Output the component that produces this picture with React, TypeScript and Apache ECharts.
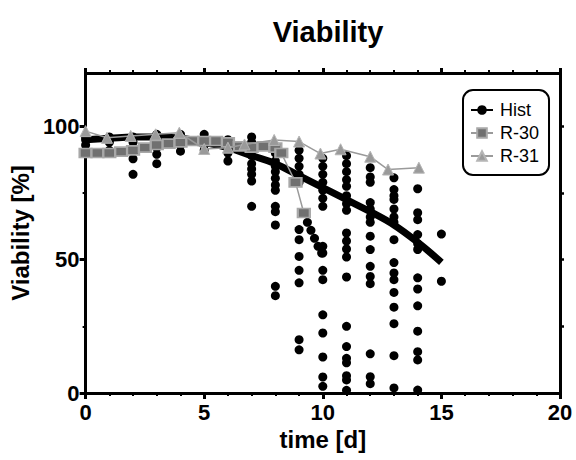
import React, { useEffect, useRef } from "react";
import * as echarts from "echarts";

const FONT = "Liberation Sans, Arial, sans-serif";

// Historical mean curve
const histTimes = [0, 1, 2, 3, 4, 5, 6, 7, 8, 9, 10, 11, 12, 13, 14, 15];
const histMean = [95, 95.5, 96, 96, 95.5, 94, 92, 89, 86, 81.5, 77, 72.5, 68, 63, 56.5, 49];

// Historical individual measurements, per day 0..15
const histByDay: number[][] = [
  [95, 96, 93, 90.5],
  [95, 96, 94, 91],
  [96, 94, 91, 87.8, 82],
  [97, 95, 92, 89.5, 86],
  [97, 95, 93, 90.7],
  [97, 95, 93, 91],
  [95, 93, 90, 87],
  [96, 94, 91, 89, 86, 84, 82, 79.5, 70],
  [92, 90, 87, 85, 83, 80.5, 78, 76, 70, 68, 63, 40, 36.5],
  [91, 88, 85, 82, 79, 61.3, 57.5, 51.2, 46, 41.3, 20, 16.2],
  [88, 85, 82, 79, 76, 73, 70, 55, 52.5, 46, 42.5, 29.3, 22.5, 13.5, 6, 2.5],
  [89, 86, 83, 80, 77.5, 74, 71, 68.5, 60, 57, 54, 51, 43.5, 25, 17.4, 13, 11.3, 6.5, 4.9, 1],
  [84.5, 81, 79, 71.4, 69, 66, 64, 58.8, 53.8, 47.5, 43.7, 41, 14.7, 6.1, 3.5],
  [80.7, 76.3, 74, 72.6, 69, 66, 64, 57.5, 48.9, 45, 42.5, 37.7, 32.2, 26, 14, 1.9],
  [76.6, 67.6, 65, 59.4, 56, 53.8, 43.2, 39, 32.7, 23.2, 15.5, 12.4, 1.1],
  [59.6, 41.9],
];
// Off-day historical measurements (between day 9 and 10)
const histExtraTimes = [9.35, 9.5, 9.65, 9.8, 9.95];
const histExtraValues = [64, 61, 58, 55, 52.5];

// R-30 run
const r30Times = [0, 0.5, 1, 1.5, 2, 2.5, 3, 3.5, 4, 4.5, 5, 5.5, 6, 6.5, 7, 7.5, 8, 8.25, 8.85, 9.2];
const r30Values = [90, 90, 90, 90.5, 91, 92, 93, 93.5, 94, 94.5, 94.5, 94.5, 94, 92.5, 92, 92.5, 92, 90, 79, 67.5];

// R-31 run
const r31Times = [0, 0.9, 1.9, 2.95, 3.95, 5, 6, 6.7, 7.95, 9, 9.9, 10.75, 12, 12.75, 14.05];
const r31Values = [98.2, 95.7, 96.4, 97, 97.6, 91.5, 92, 93.2, 94.9, 94.3, 89.8, 91.4, 88.6, 83.8, 84.5];

const xTickLabels = [0, 5, 10, 15, 20];
const yTickLabels = [0, 50, 100];
const yMinorTicks = [25, 75];
const yRightTicks = [25, 50, 75, 100];

const pairs = (xs: number[], ys: number[]) => xs.map((x, i) => [x, ys[i]]);

export default function App() {
  const ref = useRef<HTMLDivElement>(null);
  useEffect(() => {
    document.body.style.margin = "0";
    if (!ref.current) return;
    const chart = echarts.init(ref.current, undefined, { renderer: "svg" });

    const scatterData: number[][] = [];
    histByDay.forEach((vals, day) => vals.forEach((v) => scatterData.push([day, v])));
    histExtraTimes.forEach((t, i) => scatterData.push([t, histExtraValues[i]]));

    const axisLine = { show: true, onZero: false, lineStyle: { color: "#000", width: 3 } };
    const labelStyle = { fontSize: 22, fontWeight: "bold" as const, color: "#000", fontFamily: FONT };
    const nameStyle = { fontSize: 24, fontWeight: "bold" as const, color: "#000", fontFamily: FONT };

    chart.setOption({
      animation: false,
      title: {
        text: "Viability",
        left: 323,
        top: 12,
        textAlign: "center",
        textStyle: { fontSize: 29, fontWeight: "bold", color: "#000", fontFamily: FONT },
      },
      grid: { left: 84, top: 73, width: 476, height: 320 },
      legend: {
        data: ["Hist", "R-30", "R-31"],
        orient: "vertical",
        left: 463,
        top: 90,
        padding: [11, 10, 10, 7],
        itemGap: 5,
        itemWidth: 22,
        itemHeight: 12,
        borderColor: "#000",
        borderWidth: 2,
        borderRadius: 10,
        backgroundColor: "#fff",
        textStyle: { fontSize: 18, color: "#000", fontFamily: FONT, padding: [0, 0, 0, 2] },
      },
      xAxis: [
        {
          type: "value",
          min: 0,
          max: 20,
          interval: 5,
          position: "bottom",
          axisLine,
          axisTick: { show: true, length: 6, lineStyle: { color: "#000", width: 3 } },
          minorTick: { show: true, splitNumber: 5, length: 3, lineStyle: { color: "#000", width: 2 } },
          splitLine: { show: false },
          minorSplitLine: { show: false },
          axisLabel: { ...labelStyle, margin: 8, customValues: xTickLabels },
          name: "time [d]",
          nameLocation: "middle",
          nameGap: 34,
          nameTextStyle: nameStyle,
        },
        {
          type: "value",
          min: 0,
          max: 20,
          interval: 5,
          position: "top",
          axisLine,
          axisTick: { show: true, length: 5, lineStyle: { color: "#000", width: 3 } },
          minorTick: { show: true, splitNumber: 5, length: 3, lineStyle: { color: "#000", width: 2 } },
          splitLine: { show: false },
          axisLabel: { show: false },
        },
      ],
      yAxis: [
        {
          type: "value",
          min: 0,
          max: 120,
          interval: 50,
          position: "left",
          axisLine,
          axisTick: { show: true, length: 6, lineStyle: { color: "#000", width: 3 }, customValues: yTickLabels },
          splitLine: { show: false },
          axisLabel: { ...labelStyle, margin: 6, customValues: yTickLabels },
          name: "Viability [%]",
          nameLocation: "middle",
          nameGap: 40,
          nameRotate: 90,
          nameTextStyle: nameStyle,
        },
        {
          type: "value",
          min: 0,
          max: 120,
          interval: 25,
          position: "left",
          axisLine: { show: false },
          axisTick: { show: true, length: 3, lineStyle: { color: "#000", width: 2 }, customValues: yMinorTicks },
          splitLine: { show: false },
          axisLabel: { show: false },
        },
        {
          type: "value",
          min: 0,
          max: 120,
          interval: 25,
          position: "right",
          axisLine,
          axisTick: { show: true, length: 4, lineStyle: { color: "#000", width: 2.5 }, customValues: yRightTicks },
          splitLine: { show: false },
          axisLabel: { show: false },
        },
      ],
      series: [
        {
          name: "HistPts",
          type: "scatter",
          data: scatterData,
          symbol: "circle",
          symbolSize: 9,
          itemStyle: { color: "#000", opacity: 1 },
          z: 2,
        },
        {
          name: "Hist",
          type: "line",
          data: pairs(histTimes, histMean),
          smooth: 0.4,
          symbol: "none",
          lineStyle: { color: "#000", width: 7 },
          itemStyle: { color: "#000" },
          z: 3,
        },
        {
          name: "R-30",
          type: "line",
          data: pairs(r30Times, r30Values),
          symbol: "rect",
          symbolSize: [12, 9],
          itemStyle: { color: "#707070", borderColor: "#a8a8a8", borderWidth: 2 },
          lineStyle: { color: "#9a9a9a", width: 1.5 },
          z: 4,
        },
        {
          name: "R-31",
          type: "line",
          data: pairs(r31Times, r31Values),
          symbol: "triangle",
          symbolSize: 11,
          itemStyle: { color: "#9a9a9a", borderColor: "#b5b5b5", borderWidth: 1 },
          lineStyle: { color: "#9a9a9a", width: 1.5 },
          z: 5,
        },
      ],
    });
    return () => chart.dispose();
  }, []);
  return <div ref={ref} style={{ width: 576, height: 460 }} />;
}
